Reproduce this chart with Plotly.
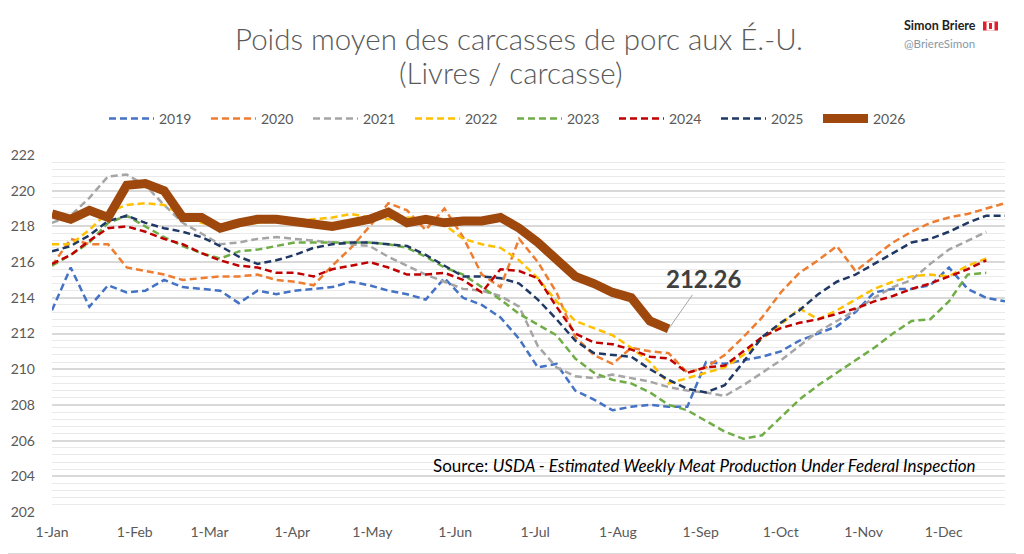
import pandas as pd
import plotly.graph_objs as go

# weekly average hog carcass weight (lbs), one point per week starting 1-Jan
weeks = pd.date_range("2001-01-01", periods=52, freq="7D")

v2019 = [213.3, 215.7, 213.5, 214.7, 214.3, 214.4, 215.0, 214.6, 214.5, 214.4, 213.7, 214.4, 214.2, 214.4, 214.5, 214.6,
         214.9, 214.7, 214.4, 214.2, 213.9, 215.1, 214.0, 213.6, 212.9, 211.7, 210.1, 210.3, 208.8, 208.3, 207.7, 207.9,
         208.0, 207.9, 207.9, 210.4, 210.3, 210.5, 210.7, 211.0, 211.6, 212.0, 212.4, 213.2, 214.3, 214.5, 214.5, 214.7,
         215.7, 214.5, 214.0, 213.8]
v2020 = [215.8, 217.3, 217.0, 217.0, 215.7, 215.5, 215.3, 215.0, 215.1, 215.2, 215.2, 215.3, 215.0, 214.9, 214.7, 215.8,
         216.8, 218.0, 219.3, 218.9, 217.8, 219.0, 217.4, 215.3, 214.6, 217.3, 216.0, 214.3, 211.8, 210.8, 210.3, 211.2,
         211.0, 210.9, 209.8, 210.1, 210.8, 211.8, 212.9, 214.3, 215.4, 216.1, 216.9, 215.5, 216.3, 217.1, 217.7, 218.2,
         218.5, 218.7, 219.0, 219.3]
v2021 = [218.2, 218.6, 219.6, 220.8, 220.9, 220.3, 219.2, 218.2, 217.6, 217.0, 217.1, 217.3, 217.4, 217.3, 217.2, 217.1,
         217.0, 216.9, 216.3, 215.8, 215.3, 214.9, 214.5, 214.4, 214.1, 213.5, 211.3, 210.1, 209.6, 209.5, 209.7, 209.5,
         209.3, 209.0, 208.8, 208.7, 208.5, 209.1, 209.8, 210.5, 211.3, 212.1, 212.7, 213.3, 214.0, 214.6, 215.0, 215.9,
         216.7, 217.2, 217.7]
v2022 = [217.0, 217.0, 217.8, 218.8, 219.2, 219.3, 219.2, 218.6, 218.2, 218.0, 218.1, 218.2, 218.3, 218.3, 218.4, 218.5,
         218.7, 218.5, 218.4, 218.5, 218.4, 218.1, 217.3, 217.0, 216.8, 216.1, 215.1, 213.8, 212.7, 212.3, 211.9, 211.2,
         210.4, 209.2, 209.5, 209.8, 210.1, 210.8, 211.7, 212.5, 213.4, 212.8, 213.3, 213.9, 214.5, 214.9, 215.2, 215.3,
         215.2, 215.8, 216.2]
v2023 = [215.8, 216.4, 217.1, 218.2, 218.6, 218.0, 217.4, 216.9, 216.5, 216.2, 216.6, 216.7, 216.9, 217.1, 217.1, 217.1,
         217.1, 217.1, 217.0, 216.8, 216.3, 215.7, 215.3, 214.6, 213.9, 213.1, 212.5, 211.9, 210.6, 209.8, 209.4, 209.2,
         208.7, 208.0, 207.7, 207.1, 206.5, 206.1, 206.3, 207.3, 208.3, 209.1, 209.8, 210.5, 211.2, 212.0, 212.7, 212.8,
         213.8, 215.3, 215.4]
v2024 = [215.9, 216.4, 217.2, 217.9, 218.0, 217.7, 217.3, 217.0, 216.5, 216.1, 215.8, 215.7, 215.4, 215.4, 215.2, 215.6,
         215.8, 216.0, 215.7, 215.3, 215.3, 215.4, 215.0, 214.3, 215.6, 215.5, 215.1, 213.5, 212.0, 211.5, 211.4, 211.1,
         210.7, 210.6, 209.8, 210.1, 210.2, 211.0, 211.8, 212.3, 212.6, 212.8, 213.1, 213.4, 213.8, 214.1, 214.5, 214.8,
         215.2, 215.6, 216.1]
v2025 = [216.6, 216.9, 217.5, 218.3, 218.6, 218.2, 217.9, 217.7, 217.4, 216.9, 216.3, 215.9, 216.1, 216.4, 216.8, 217.0,
         217.1, 217.1, 217.0, 216.9, 216.4, 215.8, 215.2, 215.2, 215.1, 214.8, 213.9, 212.8, 211.6, 210.9, 210.8, 210.7,
         210.0, 209.4, 208.9, 208.7, 209.1, 210.4, 211.8, 212.6, 213.3, 214.2, 214.9, 215.3, 215.9, 216.5, 217.1, 217.3,
         217.7, 218.2, 218.6, 218.6]
v2026 = [218.7, 218.4, 218.9, 218.5, 220.3, 220.4, 220.0, 218.5, 218.5, 217.9, 218.2, 218.4, 218.4, 218.3, 218.2, 218.0,
         218.2, 218.4, 218.8, 218.2, 218.4, 218.2, 218.3, 218.3, 218.5, 217.9, 217.1, 216.1, 215.2, 214.8, 214.3, 214.0,
         212.7, 212.26]

years = ['2019', '2020', '2021', '2022', '2023', '2024', '2025', '2026']
series = [v2019, v2020, v2021, v2022, v2023, v2024, v2025, v2026]
colors = ['#4472C4', '#ED7D31', '#A5A5A5', '#FFC000', '#70AD47', '#C00000', '#203864', '#9E480E']

month_ticks = pd.date_range("2001-01-01", periods=12, freq="MS")
month_labels = ['1-Jan', '1-Feb', '1-Mar', '1-Apr', '1-May', '1-Jun',
                '1-Jul', '1-Aug', '1-Sep', '1-Oct', '1-Nov', '1-Dec']

FONT = 'Lato'
GREY = '#595959'

# page body has an 8px margin, so the figure is 8px smaller and sits at (8, 8)
OFF = 8
W, H = 1024 - OFF, 554 - OFF
L, R, T, B = 52 - OFF, 19, 155 - OFF, 42
PW, PH = W - L - R, H - T - B

# reference-picture pixels -> paper coords
def px(x):
    return (x - OFF - L) / PW

def py(y):
    return (H - B - (y - OFF)) / PH

fig = go.Figure()

for year, vals, color in zip(years, series, colors):
    if year == '2026':
        line = dict(color=color, width=9)
    else:
        line = dict(color=color, width=2.5, dash='7px,4px')
    fig.add_trace(go.Scatter(x=weeks[:len(vals)], y=vals, mode='lines', name=year, line=line))

fig.update_layout(
    width=W, height=H,
    margin=dict(l=L, r=R, t=T, b=B, autoexpand=False),
    paper_bgcolor='white', plot_bgcolor='white',
    font=dict(family=FONT, color=GREY, size=13),
    showlegend=True,
    legend=dict(orientation='h', x=px(512), xanchor='center', y=py(119), yanchor='middle',
                font=dict(size=14, color=GREY), itemwidth=45, entrywidth=42,
                traceorder='normal'),
)

fig.update_xaxes(
    range=[weeks[0], weeks[-1]],
    tickvals=month_ticks, ticktext=month_labels,
    showgrid=False, zeroline=False, showline=False, ticks='',
    ticklabelstandoff=10,
    tickfont=dict(size=14, color=GREY),
)
fig.update_yaxes(
    range=[202, 222], tick0=202, dtick=2,
    showgrid=True, gridcolor='#D9D9D9', gridwidth=1.5,
    minor=dict(dtick=0.4, tick0=202, showgrid=True, gridcolor='#EAEAEA', gridwidth=1),
    zeroline=False, showline=False, ticks='',
    ticklabelstandoff=16,
    tickfont=dict(size=14, color=GREY),
)

annotations = [
    dict(xref='paper', yref='paper', x=px(519), y=py(38), xanchor='center', yanchor='middle',
         text='Poids moyen des carcasses de porc aux É.-U.',
         showarrow=False, font=dict(family=FONT, size=29.5, color=GREY, weight=300)),
    dict(xref='paper', yref='paper', x=px(511), y=py(73), xanchor='center', yanchor='middle',
         text='(Livres / carcasse)',
         showarrow=False, font=dict(family=FONT, size=29.5, color=GREY, weight=300)),
    dict(xref='paper', yref='paper', x=px(978), y=py(465), xanchor='right', yanchor='middle',
         text='Source: <i>USDA - Estimated Weekly Meat Production Under Federal Inspection</i>',
         showarrow=False, font=dict(family=FONT, size=17, color='#000000')),
    dict(x=weeks[len(v2026) - 1], y=v2026[-1], text='<b>%.2f</b>' % v2026[-1],
         showarrow=True, arrowhead=0, arrowcolor='#A6A6A6', arrowwidth=1, ax=35, ay=-50,
         font=dict(family=FONT, size=24, color='#404040')),
    dict(xref='paper', yref='paper', x=px(902), y=py(26), xanchor='left', yanchor='middle',
         text='<b>Simon Briere</b>',
         showarrow=False, font=dict(family=FONT, size=12.5, color='#222222')),
    dict(xref='paper', yref='paper', x=px(902), y=py(43), xanchor='left', yanchor='middle',
         text='@BriereSimon',
         showarrow=False, font=dict(family=FONT, size=11.5, color='#8899A6')),
]
fig.update_layout(annotations=annotations)

shapes = [
    # outer frame
    dict(type='rect', xref='paper', yref='paper', x0=px(0.5), x1=px(1023.5), y0=py(553.5), y1=py(0.5),
         line=dict(color='#D9D9D9', width=1), fillcolor='rgba(0,0,0,0)', layer='below'),
    # small canadian flag
    dict(type='rect', xref='paper', yref='paper', x0=px(983), x1=px(998), y0=py(30.5), y1=py(21.5),
         line=dict(width=0), fillcolor='#E0202A'),
    dict(type='rect', xref='paper', yref='paper', x0=px(986.5), x1=px(994.5), y0=py(30.5), y1=py(21.5),
         line=dict(width=0), fillcolor='white'),
    dict(type='rect', xref='paper', yref='paper', x0=px(989), x1=px(992), y0=py(29), y1=py(23),
         line=dict(width=0), fillcolor='#E0202A'),
]
fig.update_layout(shapes=shapes)

fig.write_html("out.html")
